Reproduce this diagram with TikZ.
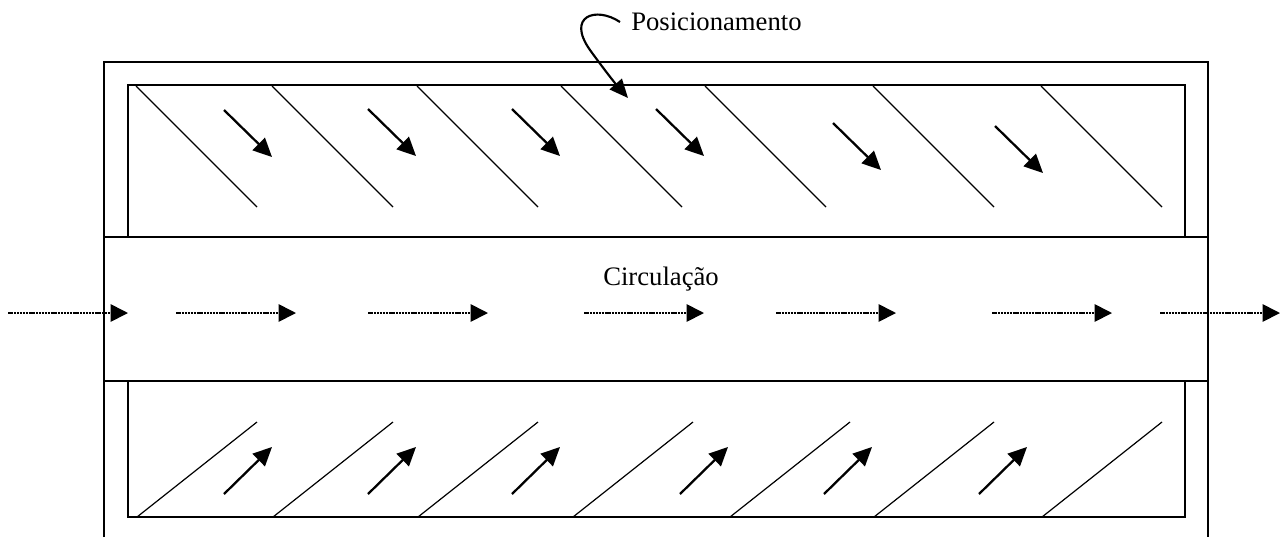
\documentclass[tikz,border=0pt]{standalone}
\usepackage{fontspec}
\setmainfont{Liberation Serif}
\usetikzlibrary{arrows.meta}

\begin{document}
\begin{tikzpicture}[x=0.75pt,y=0.75pt,yscale=-1,xscale=1,
  frame/.style={line width=1.1pt},
  hatch/.style={line width=0.9pt},
  move/.style={line width=1.7pt,-{Triangle[length=14pt,width=13pt]}},
  flow/.style={line width=1.3pt,dash pattern=on 0.8pt off 0.3pt,-{Triangle[length=13pt,width=13pt]}},
  label/.style={inner sep=0pt,font=\fontsize{20}{22}\selectfont}]
\useasboundingbox (0,0) rectangle (1285,537);

%Shape: outer frame, open at the bottom
\draw [frame] (104,537) -- (104,62) -- (1208,62) -- (1208,537) ;
%Shape: Rectangle (upper parking row)
\draw [frame] (128,85) rectangle (1185,237) ;
%Shape: Rectangle (lane)
\draw [frame,fill=white] (104,237) rectangle (1208,381) ;
%Shape: Rectangle (lower parking row)
\draw [frame] (128,381) rectangle (1185,517) ;

%Straight Lines: upper stalls
\foreach \x in {136,272,417,561,705,873,1041}
  \draw [hatch] (\x,86) -- ++(121,121) ;
%Straight Lines: lower stalls
\foreach \x in {137,273,418,573,730,874,1042}
  \draw [hatch] (\x,517) -- ++(120,-95) ;

%Arrows: upper stalls
\foreach \x/\y in {224/110,368/109,512/109,656/109,833/123,995/126}
  \draw [move] (\x,\y) -- ++(48,47) ;
%Arrows: lower stalls
\foreach \x in {224,368,512,680,824,979}
  \draw [move] (\x,494) -- ++(48,-47) ;

%Arrows: lane
\foreach \a/\b in {8/128,176/296,368/488,584/704,776/896,992/1112,1160/1280}
  \draw [flow] (\a,313) -- (\b,313) ;

% Text Node
\node [label,anchor=base west] (pos) at (631,30) {Posicionamento};
% Text Node
\node [label,anchor=base] (circ) at (661,285) {Circulação};

%Curve Lines
\coordinate (bend) at (620,22);
\coordinate (stall) at (628,98);
\draw [line width=1.6pt,-{Triangle[length=14pt,width=12pt]}] (bend) .. controls (596,6) and (566,16) .. (590,50) .. controls (603,68) and (614,82) .. (stall) ;

\end{tikzpicture}
\end{document}
